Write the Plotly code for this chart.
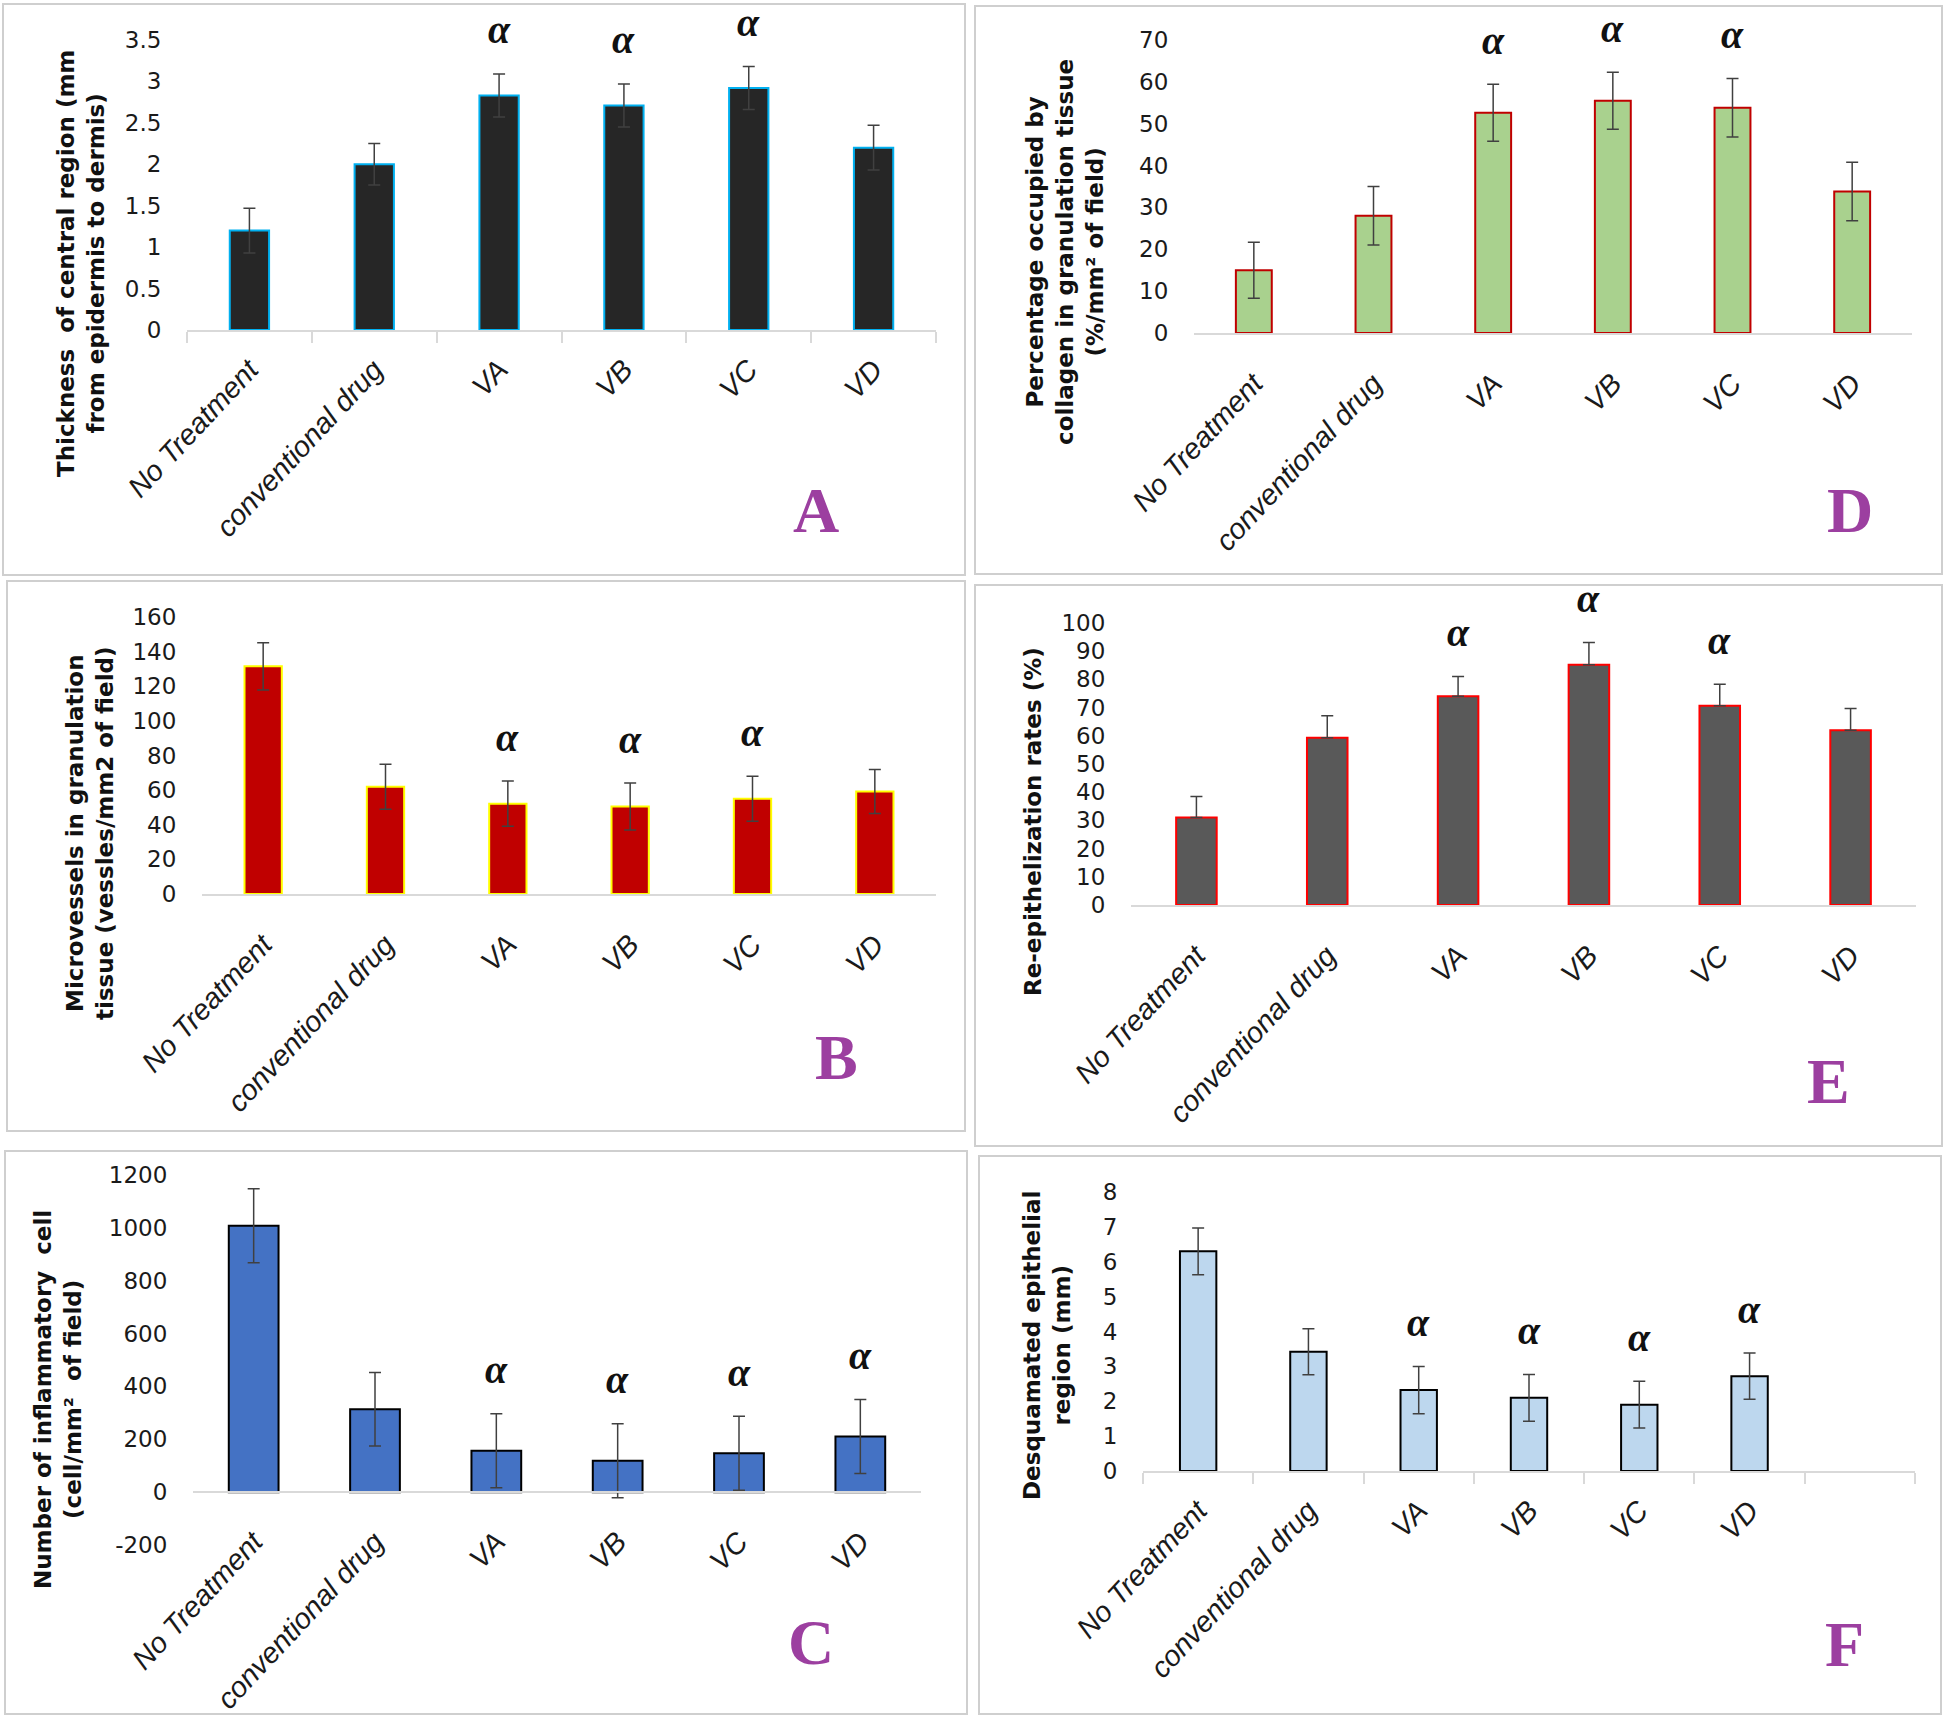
import plotly.graph_objects as go

W, H = 1946, 1718

categories = ["No Treatment", "conventional drug", "VA", "VB", "VC", "VD"]
sig_three = [False, False, True, True, True, False]
sig_four = [False, False, True, True, True, True]

# Panel A - thickness of central region
thickness_mean = [1.20, 2.00, 2.83, 2.71, 2.92, 2.20]
thickness_sd = [0.27, 0.25, 0.26, 0.26, 0.26, 0.27]
thickness_ticks = [0, 0.5, 1, 1.5, 2, 2.5, 3, 3.5]
thickness_ticktext = ["0", "0.5", "1", "1.5", "2", "2.5", "3", "3.5"]

# Panel D - collagen
collagen_mean = [15.0, 28.0, 52.6, 55.5, 53.8, 33.8]
collagen_sd = [6.7, 7.0, 6.8, 6.8, 7.0, 7.0]
collagen_ticks = [0, 10, 20, 30, 40, 50, 60, 70]
collagen_ticktext = ["0", "10", "20", "30", "40", "50", "60", "70"]

# Panel B - microvessels
vessel_mean = [131.5, 62.0, 52.2, 50.5, 55.0, 59.2]
vessel_sd = [13.6, 13.0, 13.0, 13.6, 13.0, 12.7]
vessel_ticks = [0, 20, 40, 60, 80, 100, 120, 140, 160]
vessel_ticktext = ["0", "20", "40", "60", "80", "100", "120", "140", "160"]

# Panel E - re-epithelization (plus error only)
reepi_mean = [31.0, 59.3, 74.0, 85.2, 70.7, 62.0]
reepi_sd = [7.5, 7.8, 7.0, 7.9, 7.6, 7.7]
reepi_ticks = [0, 10, 20, 30, 40, 50, 60, 70, 80, 90, 100]
reepi_ticktext = ["0", "10", "20", "30", "40", "50", "60", "70", "80", "90", "100"]

# Panel C - inflammatory cells
inflam_mean = [1008, 314, 157, 119, 147, 211]
inflam_sd = [140, 139, 140, 140, 140, 140]
inflam_ticks = [-200, 0, 200, 400, 600, 800, 1000, 1200]
inflam_ticktext = ["-200", "0", "200", "400", "600", "800", "1000", "1200"]

# Panel F - desquamated epithelial region
desq_mean = [6.30, 3.42, 2.32, 2.10, 1.90, 2.72]
desq_sd = [0.67, 0.66, 0.68, 0.67, 0.67, 0.66]
desq_ticks = [0, 1, 2, 3, 4, 5, 6, 7, 8]
desq_ticktext = ["0", "1", "2", "3", "4", "5", "6", "7", "8"]

panels = [
    dict(letter="A", mean=thickness_mean, sd=thickness_sd, sig=sig_three,
         ticks=thickness_ticks, ticktext=thickness_ticktext,
         title="Thickness  of central region (mm<br>from epidermis to dermis)",
         fill="#262626", edge="#00B0F0", px=(187, 936), py=(330, 40), bw=0.315,
         bticks=True, plus=False, extra=False, title_xy=(81, 264), letter_xy=(816, 510),
         border=(3, 4, 965, 575)),
    dict(letter="D", mean=collagen_mean, sd=collagen_sd, sig=sig_three,
         ticks=collagen_ticks, ticktext=collagen_ticktext,
         title="Percentage occupied by<br>collagen in granulation tissue<br>(%/mm² of field)",
         fill="#A9D18E", edge="#C00000", px=(1194, 1912), py=(333, 40), bw=0.30,
         bticks=False, plus=False, extra=False, title_xy=(1065, 252), letter_xy=(1850, 510),
         border=(975, 6, 1942, 574)),
    dict(letter="B", mean=vessel_mean, sd=vessel_sd, sig=sig_three,
         ticks=vessel_ticks, ticktext=vessel_ticktext,
         title="Microvessels in granulation<br>tissue (vessles/mm2 of field)",
         fill="#C00000", edge="#FFFF00", px=(202, 936), py=(894, 617), bw=0.305,
         bticks=False, plus=False, extra=False, title_xy=(90, 833), letter_xy=(836, 1057),
         border=(7, 581, 965, 1131)),
    dict(letter="E", mean=reepi_mean, sd=reepi_sd, sig=sig_three,
         ticks=reepi_ticks, ticktext=reepi_ticktext,
         title="Re-epithelization rates (%)",
         fill="#595959", edge="#FF0000", px=(1131, 1916), py=(905, 623), bw=0.31,
         bticks=False, plus=True, extra=False, title_xy=(1033, 822), letter_xy=(1828, 1081),
         border=(975, 585, 1942, 1146)),
    dict(letter="C", mean=inflam_mean, sd=inflam_sd, sig=sig_four,
         ticks=inflam_ticks, ticktext=inflam_ticktext,
         title="Number of inflammatory  cell<br>(cell/mm²  of field)",
         fill="#4472C4", edge="#000000", px=(193, 921), py=(1545, 1175), bw=0.41,
         bticks=False, plus=False, extra=False, title_xy=(58, 1400), letter_xy=(811, 1642),
         border=(5, 1151, 967, 1714)),
    dict(letter="F", mean=desq_mean, sd=desq_sd, sig=sig_four,
         ticks=desq_ticks, ticktext=desq_ticktext,
         title="Desquamated epithelial<br>region (mm)",
         fill="#BDD7EE", edge="#000000", px=(1143, 1915), py=(1471, 1192), bw=0.33,
         bticks=True, plus=False, extra=True, title_xy=(1047, 1346), letter_xy=(1844, 1644),
         border=(979, 1156, 1941, 1714)),
]

fig = go.Figure()
annotations = []
shapes = []
layout = {}

TICK_FONT = dict(family="DejaVu Sans", size=23, color="#1a1a1a")
XTICK_FONT = dict(family="Liberation Sans", size=29, color="#1a1a1a", style="italic")

for i, p in enumerate(panels):
    n = i + 1
    xs = "x" if n == 1 else f"x{n}"
    ys = "y" if n == 1 else f"y{n}"
    xkey = "xaxis" if n == 1 else f"xaxis{n}"
    ykey = "yaxis" if n == 1 else f"yaxis{n}"

    cats = list(categories)
    mean = list(p["mean"])
    sd = list(p["sd"])
    if p["extra"]:
        cats = cats + [" "]
        mean = mean + [None]
        sd = sd + [0]

    if p["plus"]:
        err = dict(type="data", symmetric=False, array=sd, arrayminus=[0] * len(sd),
                   color="#404040", thickness=1.5, width=6)
    else:
        err = dict(type="data", array=sd, color="#404040", thickness=1.5, width=6)

    fig.add_trace(go.Bar(
        x=cats, y=mean, error_y=err, width=p["bw"],
        marker=dict(color=p["fill"], line=dict(color=p["edge"], width=2)),
        xaxis=xs, yaxis=ys, showlegend=False, hoverinfo="skip",
    ))

    ymin, ymax = p["ticks"][0], p["ticks"][-1]
    ydom = [1 - p["py"][0] / H, 1 - p["py"][1] / H]
    xdom = [p["px"][0] / W, p["px"][1] / W]

    xa = dict(domain=xdom, anchor=ys, type="category", showgrid=False, zeroline=False,
              showline=True, linecolor="#d9d9d9", linewidth=2, automargin=False,
              tickangle=-47, tickfont=XTICK_FONT, ticks="outside", ticklen=11,
              ticklabelstandoff=9,
              tickwidth=2, tickcolor="#d9d9d9" if p["bticks"] else "rgba(0,0,0,0)",
              fixedrange=True)
    if p["bticks"]:
        xa["tickson"] = "boundaries"
    if ymin < 0:
        zero_pos = ydom[0] + (0 - ymin) / (ymax - ymin) * (ydom[1] - ydom[0])
        xa["anchor"] = "free"
        xa["position"] = zero_pos
    if p["extra"]:
        xa["range"] = [-0.5, len(cats) - 0.5]
    layout[xkey] = xa

    layout[ykey] = dict(domain=ydom, anchor=xs, range=[ymin, ymax], showgrid=False,
                        zeroline=False, showline=False, tickmode="array", automargin=False,
                        tickvals=p["ticks"], ticktext=p["ticktext"], tickfont=TICK_FONT,
                        ticks="outside", ticklen=20, tickcolor="rgba(0,0,0,0)",
                        fixedrange=True)

    # significance markers
    for c, m, s, flag in zip(categories, p["mean"], p["sd"], p["sig"]):
        if flag:
            annotations.append(dict(
                x=c, y=m + s, xref=xs, yref=ys, text="<b><i>α</i></b>", showarrow=False,
                yshift=44, xanchor="center", yanchor="middle",
                font=dict(family="Liberation Serif", size=40, color="#111111")))

    # y-axis title
    annotations.append(dict(
        x=p["title_xy"][0] / W, y=1 - p["title_xy"][1] / H, xref="paper", yref="paper",
        text="<b>" + p["title"] + "</b>", textangle=-90, showarrow=False,
        xanchor="center", yanchor="middle", align="center",
        font=dict(family="DejaVu Sans", size=23, color="#111111")))

    # panel letter
    annotations.append(dict(
        x=p["letter_xy"][0] / W, y=1 - p["letter_xy"][1] / H, xref="paper", yref="paper",
        text="<b>" + p["letter"] + "</b>", showarrow=False,
        xanchor="center", yanchor="middle",
        font=dict(family="Liberation Serif", size=64, color="#9C3FA0")))

    # panel border
    bx0, by0, bx1, by1 = p["border"]
    shapes.append(dict(type="rect", xref="paper", yref="paper",
                       x0=bx0 / W, x1=bx1 / W, y0=1 - by1 / H, y1=1 - by0 / H,
                       line=dict(color="#cfcfcf", width=2), fillcolor="rgba(0,0,0,0)",
                       layer="below"))

fig.update_layout(
    template="none",
    width=W, height=H, margin=dict(l=0, r=0, t=0, b=0, pad=0, autoexpand=False),
    paper_bgcolor="white", plot_bgcolor="white",
    annotations=annotations, shapes=shapes, showlegend=False, bargap=0.5,
    **layout,
)

fig.write_html(
    "out.html",
    config={"displayModeBar": False},
    post_script="document.body.style.margin='0px';document.body.style.padding='0px';"
                "document.body.style.overflow='hidden';",
)
